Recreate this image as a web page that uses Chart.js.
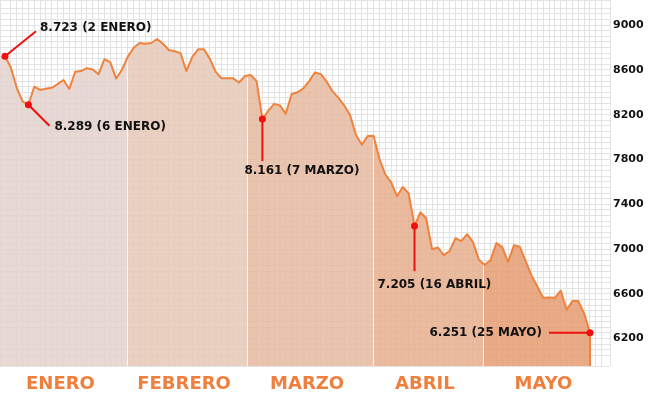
<!DOCTYPE html>
<html>
<head>
<meta charset="utf-8">
<script src="https://cdn.jsdelivr.net/npm/chart.js@4"></script>
<style>
  body { margin: 0; background: #fff; }
</style>
</head>
<body>
<canvas id="graficaIbex" width="655" height="400"></canvas>
<script>
// cierres diarios (2 enero - 25 mayo)
const cierres = [
  8723, 8622, 8441, 8320, 8289, 8450, 8421, 8432, 8440, 8474,
  8510, 8430, 8585, 8590, 8616, 8604, 8563, 8696, 8667, 8523,
  8602, 8719, 8798, 8841, 8834, 8841, 8877, 8834, 8778, 8767,
  8750, 8590, 8714, 8785, 8785, 8701, 8585, 8525, 8525, 8525,
  8488, 8545, 8554, 8501, 8161, 8234, 8297, 8283, 8208, 8385,
  8401, 8435, 8501, 8578, 8563, 8495, 8408, 8351, 8282, 8194,
  8018, 7932, 8009, 8012, 7808, 7666, 7597, 7471, 7554, 7497,
  7205, 7328, 7275, 6998, 7013, 6946, 6982, 7097, 7071, 7133,
  7062, 6905, 6858, 6902, 7053, 7017, 6884, 7035, 7021, 6893,
  6764, 6665, 6564, 6567, 6564, 6629, 6458, 6535, 6535, 6424, 6251
];
const meses = ['ENERO', 'FEBRERO', 'MARZO', 'ABRIL', 'MAYO'];
// cambio de mes, en sesiones
const cambioMes = [20.85, 41.4, 62.9, 81.7];
const etiquetasY = [6200, 6600, 7000, 7400, 7800, 8200, 8600, 9000];
const notasIdx = [0, 4, 44, 70, 100];
const notasTexto = ['8.723 (2 ENERO)', '8.289 (6 ENERO)', '8.161 (7 MARZO)', '7.205 (16 ABRIL)', '6.251 (25 MAYO)'];

const naranja = '#ef833d';
const rellenos = ['rgba(228,210,204,0.85)', 'rgba(230,201,184,0.85)', 'rgba(230,186,160,0.85)',
                  'rgba(231,175,142,0.85)', 'rgba(230,157,114,0.85)'];
const fuente = '"DejaVu Sans", Verdana, sans-serif';

function bandas(chart) {
  const xs = chart.scales.x, a = chart.chartArea;
  return [a.left].concat(cambioMes.map(v => xs.getPixelForValue(v)), [a.right]);
}

function yEnX(meta, x) {
  const pts = meta.data;
  for (let i = 1; i < pts.length; i++) {
    if (pts[i].x >= x) {
      const p = pts[i - 1], q = pts[i];
      return p.y + (q.y - p.y) * (x - p.x) / (q.x - p.x);
    }
  }
  return pts[pts.length - 1].y;
}

const extras = {
  id: 'extras',
  beforeDatasetDraw(chart, args) {
    const ctx = chart.ctx, a = chart.chartArea, meta = args.meta;
    const p0 = meta.data[0];
    ctx.save();
    ctx.fillStyle = rellenos[0];
    ctx.fillRect(a.left, p0.y, p0.x - a.left, a.bottom - p0.y);
    // separadores de mes dentro del relleno
    const b = bandas(chart);
    ctx.strokeStyle = 'rgba(255,255,255,0.85)';
    ctx.lineWidth = 1;
    for (let k = 1; k < b.length - 1; k++) {
      const x = Math.round(b[k]) + 0.5;
      ctx.beginPath();
      ctx.moveTo(x, a.bottom);
      ctx.lineTo(x, yEnX(meta, b[k]) + 1);
      ctx.stroke();
    }
    ctx.restore();
  },
  afterDatasetsDraw(chart) {
    const ctx = chart.ctx, a = chart.chartArea;
    const meta = chart.getDatasetMeta(0);
    const last = meta.data[meta.data.length - 1];
    ctx.save();
    ctx.strokeStyle = naranja;
    ctx.lineWidth = 2;
    ctx.beginPath();
    ctx.moveTo(last.x, last.y);
    ctx.lineTo(last.x, a.bottom);
    ctx.stroke();

    // anotaciones
    const guia = [
      { lx: 31, ly: -25, tx: 35, ty: -28, align: 'left' },
      { lx: 21, ly: 21, tx: 26, ty: 22, align: 'left' },
      { lx: 0, ly: 42, tx: -18, ty: 52, align: 'left' },
      { lx: 0, ly: 45, tx: -37, ty: 59, align: 'left' },
      { lx: -41, ly: 0, tx: -48, ty: 0, align: 'right' }
    ];
    ctx.font = 'bold 12px ' + fuente;
    ctx.textBaseline = 'middle';
    notasIdx.forEach((idx, k) => {
      const p = meta.data[idx], g = guia[k];
      ctx.strokeStyle = '#f01010';
      ctx.lineWidth = 2;
      ctx.beginPath();
      ctx.moveTo(p.x, p.y);
      ctx.lineTo(p.x + g.lx, p.y + g.ly);
      ctx.stroke();
      ctx.fillStyle = '#f01010';
      ctx.beginPath();
      ctx.arc(p.x, p.y, 3.5, 0, Math.PI * 2);
      ctx.fill();
      ctx.fillStyle = '#111';
      ctx.textAlign = g.align;
      ctx.fillText(notasTexto[k], p.x + g.tx, p.y + g.ty);
    });

    // meses
    const b = bandas(chart);
    ctx.font = 'bold 18px ' + fuente;
    ctx.fillStyle = '#ef7f3c';
    ctx.textAlign = 'center';
    meses.forEach((m, k) => {
      ctx.fillText(m, (b[k] + b[k + 1]) / 2 - 3, 384);
    });
    ctx.restore();
  }
};

const ctxIbex = document.getElementById('graficaIbex').getContext('2d');
new Chart(ctxIbex, {
  type: 'line',
  data: {
    datasets: [{
      data: cierres.map((v, i) => ({ x: i, y: v })),
      borderColor: naranja,
      borderWidth: 2,
      borderJoinStyle: 'round',
      pointRadius: 0,
      tension: 0,
      fill: 'start',
      backgroundColor: (c) => {
        const chart = c.chart;
        if (!chart.chartArea || !chart.scales.x) return rellenos[0];
        const a = chart.chartArea, w = a.right - a.left;
        const b = bandas(chart);
        const g = chart.ctx.createLinearGradient(a.left, 0, a.right, 0);
        for (let k = 0; k < rellenos.length; k++) {
          const s = Math.min(1, Math.max(0, (b[k] - a.left) / w));
          const e = Math.min(1, Math.max(0, (b[k + 1] - a.left) / w));
          g.addColorStop(s, rellenos[k]);
          g.addColorStop(e, rellenos[k]);
        }
        return g;
      }
    }]
  },
  options: {
    responsive: false,
    animation: false,
    layout: { padding: 0 },
    plugins: { legend: { display: false }, tooltip: { enabled: false } },
    scales: {
      x: {
        type: 'linear',
        min: -0.855,
        max: 103.42,
        grid: { color: '#e3e3e3', drawTicks: false },
        border: { display: false },
        ticks: { display: false, stepSize: 1, autoSkip: false },
        afterFit: (s) => { s.height = 34; s.paddingLeft = 0; s.paddingRight = 0; }
      },
      y: {
        position: 'right',
        min: 5955,
        max: 9225,
        grid: { color: '#e3e3e3', drawTicks: false },
        border: { display: false },
        ticks: {
          stepSize: 50,
          autoSkip: false,
          padding: 3,
          color: '#111',
          font: { family: fuente, size: 11, weight: 'bold' },
          callback: (v) => etiquetasY.includes(Math.round(v)) ? String(Math.round(v)) : ''
        },
        afterFit: (s) => { s.width = 45; s.paddingTop = 0; s.paddingBottom = 0; }
      }
    }
  },
  plugins: [extras]
});
</script>
</body>
</html>
